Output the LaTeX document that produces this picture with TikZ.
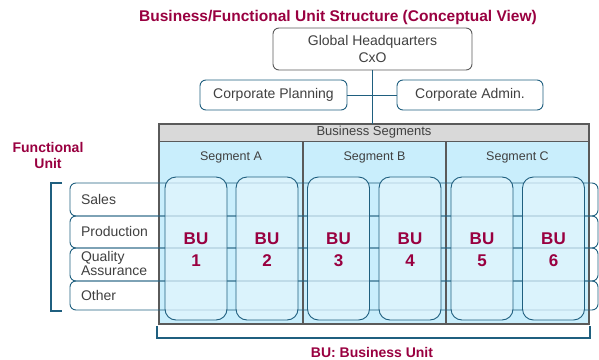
\documentclass[tikz,border=0pt]{standalone}
\usepackage{fontspec}
\setmainfont{Liberation Sans}
\definecolor{teal1}{RGB}{31,95,127}
\definecolor{txt}{RGB}{64,64,64}
\definecolor{crim}{RGB}{153,0,64}
\definecolor{segblue}{RGB}{201,238,252}
\definecolor{bufill}{RGB}{226,245,253}
\definecolor{hdrgray}{RGB}{217,217,217}
\definecolor{frame}{RGB}{90,90,90}
\tikzset{
  x=1pt,y=-1pt,
  every node/.style={inner sep=0pt,outer sep=0pt,text=txt},
  hqbox/.style={draw=frame,line width=0.9pt,rounded corners=6pt,fill=white,minimum width=199pt,minimum height=42pt,align=center,font=\fontsize{14}{17}\selectfont},
  corpbox/.style={draw=teal1,line width=0.9pt,rounded corners=6pt,fill=white,minimum height=30pt,font=\fontsize{14}{17}\selectfont},
  rowbox/.style={draw=teal1,line width=0.9pt,rounded corners=6pt,minimum width=528pt,anchor=north west},
  rowtxt/.style={anchor=west,align=left,font=\fontsize{14}{12.5}\selectfont},
  bubox/.style={draw=teal1,line width=0.9pt,rounded corners=11pt,fill=bufill,fill opacity=0.72,minimum width=62pt,minimum height=143pt,anchor=north west},
  butxt/.style={text=crim,align=center,font=\bfseries\fontsize{17}{22}\selectfont},
  segtxt/.style={font=\fontsize{12.5}{15}\selectfont},
  redtxt/.style={text=crim,align=center,font=\bfseries\fontsize{14}{16}\selectfont},
  conn/.style={draw=teal1,line width=0.9pt},
  brack/.style={draw=teal1,line width=1.5pt},
}
\begin{document}
\begin{tikzpicture}
\useasboundingbox (0,0) rectangle (599,359);
% title
\node[text=crim,font=\bfseries\fontsize{15.5}{18}\selectfont] (title) at (338,17) {Business/Functional Unit Structure (Conceptual View)};
% top boxes
\node[hqbox] (hq) at (372.5,49) {Global Headquarters\\CxO};
\node[corpbox,minimum width=147pt] (cp) at (273.5,95) {Corporate Planning};
\node[corpbox,minimum width=146pt] (ca) at (470,95) {Corporate Admin.};
% segments area
\node[fill=hdrgray,minimum width=430pt,minimum height=17pt,anchor=north west,font=\fontsize{13}{15}\selectfont] (bs) at (159,124) {Business Segments};
\node[fill=segblue,minimum width=430pt,minimum height=183pt,anchor=north west] (area) at (159,141) {};
\coordinate (d1t) at (303,141); \coordinate (d1b) at (303,324);
\coordinate (d2t) at (446,141); \coordinate (d2b) at (446,324);
\draw[frame,line width=1.2pt] (d1t) -- (d1b) (d2t) -- (d2b);
\draw[frame,line width=1.4pt] (bs.north west) rectangle (area.south east);
\draw[frame,line width=0.9pt] (bs.south west) -- (bs.south east);
\node[segtxt] (sa) at (231,157) {Segment A};
\node[segtxt] (sb) at (374.5,157) {Segment B};
\node[segtxt] (sc) at (517.5,157) {Segment C};
% connectors
\draw[conn] (hq.south) -- (hq.south |- bs.north);
\draw[conn] (cp.east) -- (ca.west);
% rows
\node[rowbox,minimum height=33pt] (r1) at (70,183) {};
\node[rowbox,minimum height=32pt] (r2) at (70,216) {};
\node[rowbox,minimum height=33pt] (r3) at (70,248) {};
\node[rowbox,minimum height=29pt] (r4) at (70,281) {};
\node[rowtxt] (t1) at (81,199.5) {Sales};
\node[rowtxt] (t2) at (81,231) {Production};
\node[rowtxt] (t3) at (81,263.5) {Quality\\Assurance};
\node[rowtxt] (t4) at (81,295.5) {Other};
% business units
\node[bubox] (bu1) at (165,177) {};
\node[bubox] (bu2) at (236,177) {};
\node[bubox] (bu3) at (307.5,177) {};
\node[bubox] (bu4) at (379,177) {};
\node[bubox] (bu5) at (451,177) {};
\node[bubox] (bu6) at (522.5,177) {};
\node[butxt] (l1) at (bu1.center |- 0,250) {BU\\1};
\node[butxt] (l2) at (bu2.center |- 0,250) {BU\\2};
\node[butxt] (l3) at (bu3.center |- 0,250) {BU\\3};
\node[butxt] (l4) at (bu4.center |- 0,250) {BU\\4};
\node[butxt] (l5) at (bu5.center |- 0,250) {BU\\5};
\node[butxt] (l6) at (bu6.center |- 0,250) {BU\\6};
% brackets
\coordinate (lb1) at (62,183); \coordinate (lb2) at (51,183);
\coordinate (lb3) at (51,311); \coordinate (lb4) at (62,311);
\draw[brack] (lb1) -- (lb2) -- (lb3) -- (lb4);
\coordinate (bb1) at (157,326); \coordinate (bb2) at (157,338);
\coordinate (bb3) at (590,338); \coordinate (bb4) at (590,326);
\draw[brack] (bb1) -- (bb2) -- (bb3) -- (bb4);
% labels
\node[redtxt] (fu) at (48,155) {Functional\\Unit};
\node[redtxt] (bul) at (372,352) {BU: Business Unit};
\end{tikzpicture}
\end{document}
